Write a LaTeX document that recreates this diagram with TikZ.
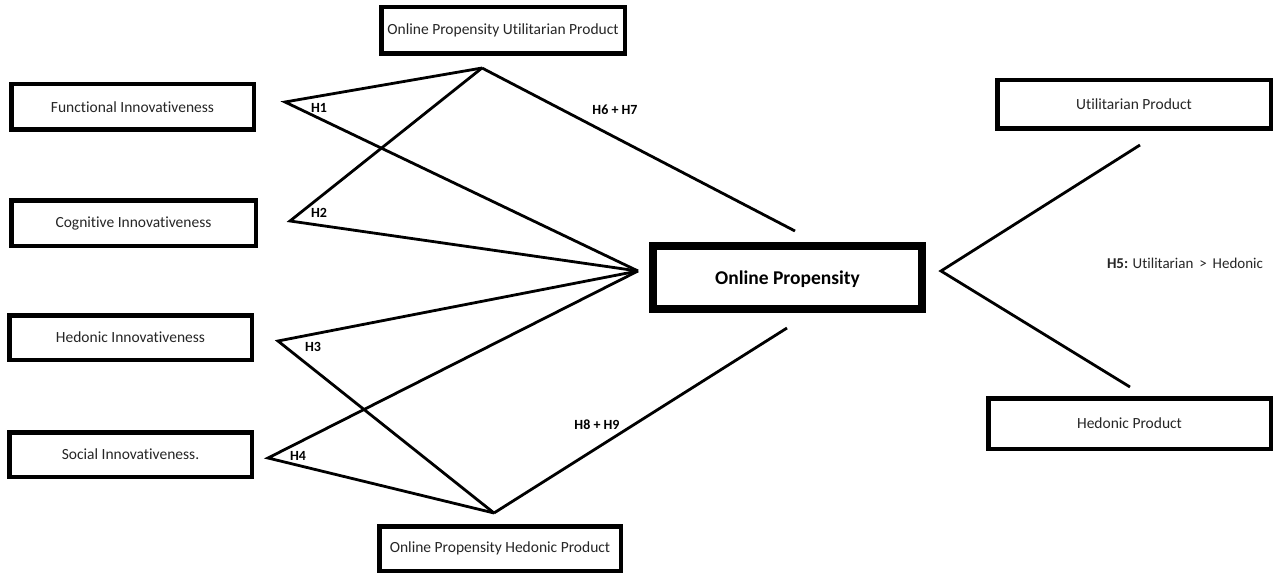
\documentclass[tikz,border=0pt]{standalone}
\usepackage{fontspec}
\setmainfont{Carlito}[Ligatures=NoCommon]
\begin{document}
\begin{tikzpicture}[x=1pt,y=-1pt,
  box/.style={draw=black,line width=4.5pt,fill=white,inner sep=0pt,outer sep=0pt,
    font=\fontsize{15.5}{18}\selectfont,text=black!85},
  bigbox/.style={draw=black,line width=8pt,fill=white,inner sep=0pt,outer sep=0pt,
    font=\fontsize{19.5}{22}\selectfont\bfseries},
  link/.style={line width=2.8pt,line join=miter,line cap=butt},
  hyp/.style={font=\fontsize{14}{16}\selectfont\bfseries,inner sep=0pt}]
\useasboundingbox (0,0) rectangle (1275,575);
\fill[white] (0,0) rectangle (1275,575);
% boxes
\node[box,minimum width=242.5pt,minimum height=45.5pt] (fi) at (132.5,107) {Functional Innovativeness};
\node[box,minimum width=244.5pt,minimum height=45.5pt] (ci) at (133.5,223) {Cognitive Innovativeness};
\node[box,minimum width=242.5pt,minimum height=44.5pt] (hi) at (130.5,337.5) {Hedonic Innovativeness};
\node[box,minimum width=242.5pt,minimum height=44.5pt] (si) at (130.5,454.5) {Social Innovativeness.};
\node[box,minimum width=243.5pt,minimum height=46.5pt] (opu) at (503,30.5) {Online Propensity Utilitarian Product};
\node[box,minimum width=241.5pt,minimum height=44.5pt] (oph) at (500,548.5) {Online Propensity Hedonic Product};
\node[bigbox,minimum width=269pt,minimum height=63pt,text depth=0pt] (op) at (787.5,277.5) {Online Propensity};
\node[box,minimum width=273.5pt,minimum height=48.5pt] (up) at (1134,104.5) {Utilitarian Product};
\node[box,minimum width=282.5pt,minimum height=50.5pt] (hp) at (1129.5,423.5) {Hedonic Product};
% line points
\coordinate (v1) at (285,102);
\coordinate (v2) at (290,221);
\coordinate (v3) at (278,341);
\coordinate (v4) at (268,458);
\coordinate (t) at (482,68);
\coordinate (b) at (494,513);
\coordinate (c) at (638,271);
\coordinate (ot) at (795,231);
\coordinate (ob) at (787,328);
\coordinate (r) at (941,271);
\coordinate (ru) at (1140,145);
\coordinate (rd) at (1130,387);
% connectors
\draw[link] (t) -- (v1) -- (c);
\draw[link] (t) -- (v2) -- (c);
\draw[link] (c) -- (v3) -- (b);
\draw[link] (c) -- (v4) -- (b);
\draw[link] (t) -- (ot);
\draw[link] (b) -- (ob);
\draw[link] (ru) -- (r) -- (rd);
% labels
\node[hyp] (h1) at (319,108) {H1};
\node[hyp] (h2) at (319,213) {H2};
\node[hyp] (h3) at (313,347) {H3};
\node[hyp] (h4) at (298,456) {H4};
\node[hyp] (h67) at (615,110) {H6 + H7};
\node[hyp] (h89) at (597,425) {H8 + H9};
\node[inner sep=0pt,font=\fontsize{15}{17}\selectfont,text=black!85] (h5) at (1185,263) {\textbf{H5:} Utilitarian \,>\, Hedonic};
\end{tikzpicture}
\end{document}
